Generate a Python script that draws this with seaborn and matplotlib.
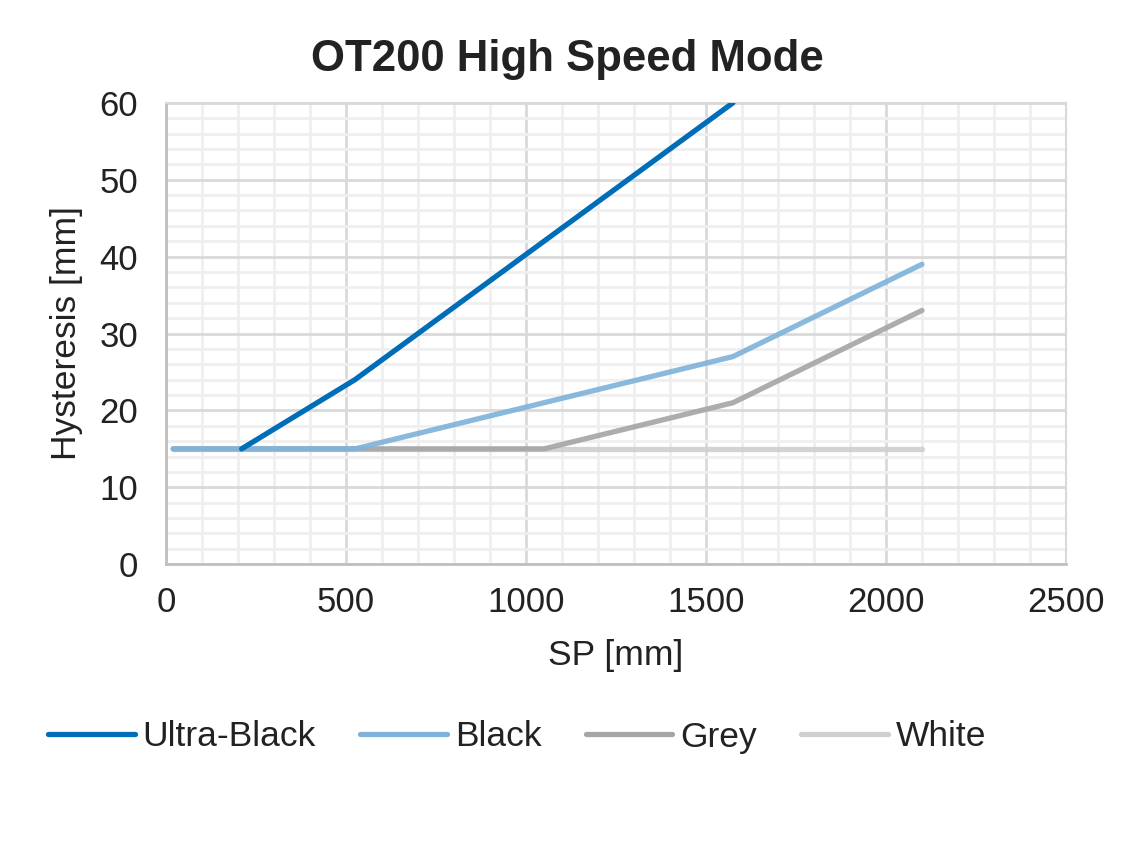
import matplotlib
matplotlib.use("Agg")
import matplotlib.pyplot as plt
import seaborn as sns
import pandas as pd
from matplotlib.ticker import MultipleLocator

# Data
ultra_x = [210, 525, 1050, 1575]
ultra_y = [15, 24, 42, 60]
black_x = [20, 525, 1050, 1575, 2100]
black_y = [15, 15, 21, 27, 39]
grey_x = [20, 525, 1050, 1575, 2100]
grey_y = [15, 15, 15, 21, 33]
white_x = [20, 525, 1050, 1575, 2100]
white_y = [15, 15, 15, 15, 15]
series_names = ["Ultra-Black", "Black", "Grey", "White"]
series_colors = ["#006DB8", "#7FB3D9", "#A6A6A9", "#D0D0D0"]

frames = []
for name, xs, ys in zip(series_names,
                        [ultra_x, black_x, grey_x, white_x],
                        [ultra_y, black_y, grey_y, white_y]):
    frames.append(pd.DataFrame({"SP": xs, "Hyst": ys, "Series": name}))
df = pd.concat(frames, ignore_index=True)

sns.set_theme(style="white")
plt.rcParams["font.family"] = ["Liberation Sans", "DejaVu Sans"]

fig = plt.figure(figsize=(11.34, 8.64), dpi=100)
ax = fig.add_axes([0.1464, 0.347, 0.7936, 0.534])

sns.lineplot(data=df, x="SP", y="Hyst", hue="Series", hue_order=series_names,
             palette=dict(zip(series_names, series_colors)), linewidth=3.8,
             ax=ax, sort=False, estimator=None, legend=True,
             solid_capstyle="round")

# layer order: white below the others, then grey, black, ultra-black
zorders = {"Ultra-Black": 6, "Black": 5, "Grey": 4, "White": 3}
alphas = {"Ultra-Black": 1.0, "Black": 0.92, "Grey": 0.92, "White": 0.92}
for line, name in zip(ax.get_lines(), series_names):
    line.set_zorder(zorders[name])
    line.set_alpha(alphas[name])

ax.set_xlim(0, 2500)
ax.set_ylim(0, 60)
ax.xaxis.set_major_locator(MultipleLocator(500))
ax.xaxis.set_minor_locator(MultipleLocator(100))
ax.yaxis.set_major_locator(MultipleLocator(10))
ax.yaxis.set_minor_locator(MultipleLocator(2))
ax.grid(which="major", color="#D9D9D9", linewidth=2.0, zorder=1)
ax.grid(which="minor", color="#EFEFEF", linewidth=2.0, zorder=0)
ax.set_axisbelow(True)
ax.tick_params(axis="both", which="both", length=0, labelsize=25, colors="#222222")
ax.tick_params(axis="x", pad=16)
ax.tick_params(axis="y", pad=20)

for side in ["top", "right"]:
    ax.spines[side].set_color("#D9D9D9")
    ax.spines[side].set_linewidth(1.5)
for side in ["left", "bottom"]:
    ax.spines[side].set_color("#BFBFBF")
    ax.spines[side].set_linewidth(2.0)

ax.set_xlabel("SP [mm]", fontsize=25.5, color="#222222", labelpad=14)
ax.set_ylabel("Hysteresis [mm]", fontsize=25.5, color="#222222", labelpad=12)
fig.text(0.5, 1 - 60 / 864, "OT200 High Speed Mode", fontsize=31.5,
         fontweight="bold", color="#222222", ha="center", va="center")

handles, labels = ax.get_legend_handles_labels()
ax.legend(handles, labels, loc="center", bbox_to_anchor=(0.456, 1 - 737 / 864),
          bbox_transform=fig.transFigure, ncol=4, frameon=False,
          fontsize=25.5, handlelength=2.45, columnspacing=1.25, handletextpad=0.22)
for t in ax.get_legend().get_texts():
    t.set_color("#222222")

fig.savefig("out.png", dpi=100)
